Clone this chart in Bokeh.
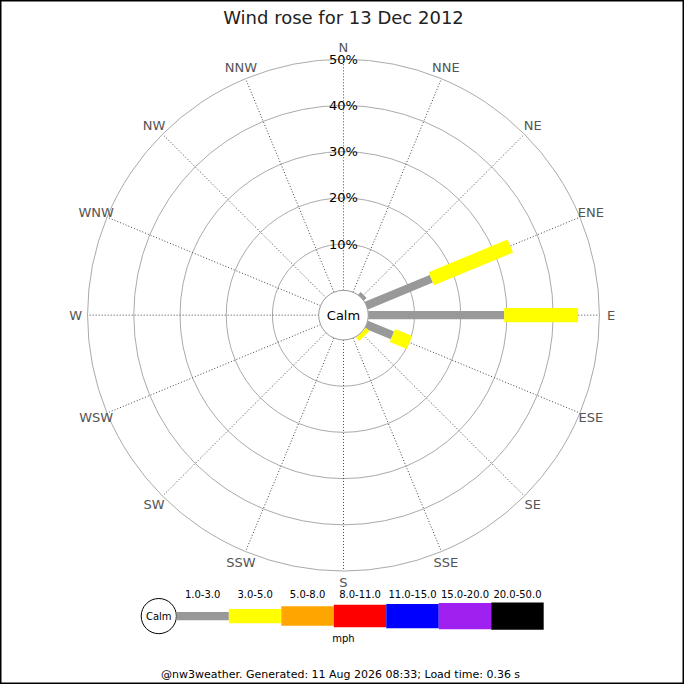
import math
from bokeh.plotting import figure
from bokeh.models import Range1d
from bokeh.embed import file_html
from bokeh.resources import INLINE
from bokeh.core.properties import value

# ---------------- data ----------------
title = "Wind rose for 13 Dec 2012"
directions = ["N", "NNE", "NE", "ENE", "E", "ESE", "SE", "SSE",
              "S", "SSW", "SW", "WSW", "W", "WNW", "NW", "NNW"]
speed_bins = ["1.0-3.0", "3.0-5.0", "5.0-8.0", "8.0-11.0",
              "11.0-15.0", "15.0-20.0", "20.0-50.0"]
bin_colors = ["#999999", "#ffff00", "#ffa500", "#ff0000",
              "#0000ff", "#a020f0", "#000000"]
# percent of time per direction for each speed bin (index = direction)
pct_1_3 = [0, 0, 0.8, 15.2, 29.4, 6.1, 0, 0, 0, 0, 0, 0, 0, 0, 0, 0]
pct_3_5 = [0, 0, 0, 18.5, 16.0, 4.0, 1.0, 0, 0, 0, 0, 0, 0, 0, 0, 0]
pct_5_8 = [0] * 16
pct_8_11 = [0] * 16
pct_11_15 = [0] * 16
pct_15_20 = [0] * 16
pct_20_50 = [0] * 16
ring_pcts = [10, 20, 30, 40, 50]
ring_labels = ["10%", "20%", "30%", "40%", "50%"]
unit_label = "mph"
footer = "@nw3weather. Generated: 11 Aug 2026 08:33; Load time: 0.36 s"

series = [pct_1_3, pct_3_5, pct_5_8, pct_8_11, pct_11_15, pct_15_20, pct_20_50]

# ---------------- layout / style ----------------
R0 = 25.4          # calm circle radius (px units)
K = 4.73           # px per percent
bar_w = [8.5, 14.5, 20, 23, 25, 27, 28]
label_r = 274

def rad(p):
    return R0 + K * p

def uvec(i):
    b = math.radians(i * 22.5)
    return math.sin(b), math.cos(b)

p = figure(width=684, height=684, output_backend="svg", toolbar_location=None,
           x_range=Range1d(-351, 349), y_range=Range1d(-378, 322),
           min_border=0)
p.axis.visible = False
p.grid.visible = False
p.outline_line_color = "black"
p.outline_line_width = 2
p.background_fill_color = "white"
p.border_fill_color = "white"

# rings
p.circle(x=[0] * len(ring_pcts), y=[0] * len(ring_pcts),
         radius=[rad(v) for v in ring_pcts],
         fill_color=None, line_color="#aaaaaa", line_width=1)

# spokes
sx0, sy0, sx1, sy1 = [], [], [], []
for i in range(16):
    ux, uy = uvec(i)
    sx0.append(ux * R0); sy0.append(uy * R0)
    sx1.append(ux * rad(50)); sy1.append(uy * rad(50))
p.segment(x0=sx0, y0=sy0, x1=sx1, y1=sy1, line_color="#444444",
          line_width=1, line_dash="1 2")

# bars
for k, ser in enumerate(series):
    xs, ys = [], []
    for i in range(16):
        start = sum(series[j][i] for j in range(k))
        v = ser[i]
        if v <= 0:
            continue
        ux, uy = uvec(i)
        nx, ny = uy, -ux
        r0, r1 = rad(start), rad(start + v)
        h = bar_w[k] / 2
        xs.append([r0 * ux + h * nx, r1 * ux + h * nx, r1 * ux - h * nx, r0 * ux - h * nx])
        ys.append([r0 * uy + h * ny, r1 * uy + h * ny, r1 * uy - h * ny, r0 * uy - h * ny])
    if xs:
        p.patches(xs=xs, ys=ys, fill_color=bin_colors[k], line_color=None)

# calm circle
p.circle(x=[0], y=[0], radius=R0, fill_color="white", line_color="#999999", line_width=1)
p.text(x=[0], y=[0], text=["Calm"], text_align="center", text_baseline="middle",
       text_font=value("DejaVu Sans"), text_font_size="13px", text_color="black")

# ring labels
p.text(x=[0] * len(ring_pcts), y=[rad(v) for v in ring_pcts], text=ring_labels,
       text_align="center", text_baseline="middle",
       text_font=value("DejaVu Sans"), text_font_size="13px", text_color="black")

# direction labels
dx = [uvec(i)[0] * label_r for i in range(16)]
dy = [uvec(i)[1] * label_r for i in range(16)]
p.text(x=dx, y=dy, text=directions, text_align="center", text_baseline="middle",
       text_font=value("DejaVu Sans"), text_font_size="13px", text_color="#555555")

# title
p.text(x=[0], y=[305], text=[title], text_align="center", text_baseline="middle",
       text_font=value("DejaVu Sans"), text_font_size="18px", text_color="#222222")

# legend
leg_y = -308
seg_w = 53.7
leg_x0 = -171
p.circle(x=[-189], y=[leg_y], radius=18, fill_color="white", line_color="black", line_width=1)
p.text(x=[-189], y=[leg_y], text=["Calm"], text_align="center", text_baseline="middle",
       text_font=value("DejaVu Sans"), text_font_size="10px", text_color="black")
lefts = [leg_x0 + i * seg_w for i in range(len(speed_bins))]
rights = [l + seg_w for l in lefts]
p.quad(left=lefts, right=rights,
       bottom=[leg_y - w / 2 for w in bar_w], top=[leg_y + w / 2 for w in bar_w],
       fill_color=bin_colors, line_color=None)
p.text(x=[l + seg_w / 2 for l in lefts], y=[leg_y + 23] * len(speed_bins), text=speed_bins,
       text_align="center", text_baseline="middle",
       text_font=value("DejaVu Sans"), text_font_size="10px", text_color="black")
p.text(x=[0], y=[leg_y - 23], text=[unit_label], text_align="center", text_baseline="middle",
       text_font=value("DejaVu Sans"), text_font_size="10px", text_color="black")

# footer
p.text(x=[-3], y=[-368], text=[footer], text_align="center", text_baseline="middle",
       text_font=value("DejaVu Sans"), text_font_size="11px", text_color="black")

open("out.html", "w").write(file_html(p, INLINE))
